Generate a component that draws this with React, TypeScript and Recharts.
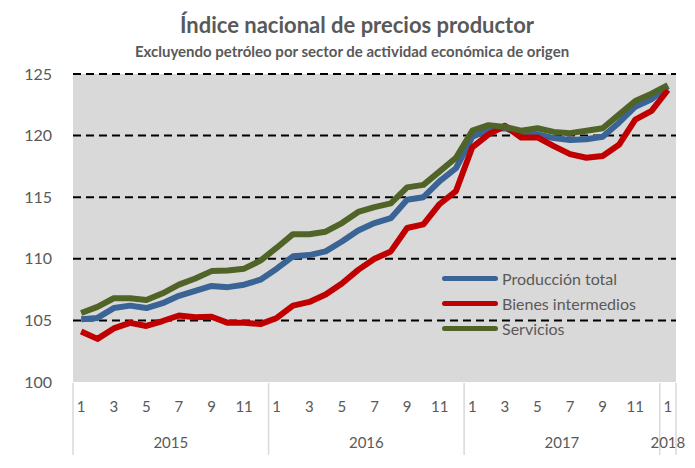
import React from 'react';
import { LineChart, Line, XAxis, YAxis, CartesianGrid, Legend } from 'recharts';

// month number of each observation, Jan 2015 .. Jan 2018
const monthNumbers = [
  1, 2, 3, 4, 5, 6, 7, 8, 9, 10, 11, 12,
  1, 2, 3, 4, 5, 6, 7, 8, 9, 10, 11, 12,
  1, 2, 3, 4, 5, 6, 7, 8, 9, 10, 11, 12,
  1,
];
const years = ['2015', '2016', '2017', '2018'];

const produccionTotal = [
  105.1, 105.2, 106.0, 106.2, 106.0, 106.4, 107.0, 107.4, 107.8, 107.7, 107.9, 108.3,
  109.2, 110.2, 110.3, 110.6, 111.4, 112.3, 112.9, 113.3, 114.8, 115.0, 116.3, 117.35,
  119.9, 120.45, 120.6, 120.1, 120.1, 119.8, 119.65, 119.7, 119.9, 121.05, 122.35, 122.95,
  124.0,
];
const bienesIntermedios = [
  104.1, 103.5, 104.35, 104.8, 104.55, 104.95, 105.4, 105.25, 105.3, 104.8, 104.8, 104.7,
  105.2, 106.2, 106.5, 107.1, 108.0, 109.1, 110.0, 110.6, 112.5, 112.8, 114.45, 115.5,
  119.05, 120.1, 120.8, 119.85, 119.85, 119.15, 118.5, 118.2, 118.35, 119.25, 121.3, 122.0,
  123.7,
];
const servicios = [
  105.6, 106.1, 106.8, 106.8, 106.65, 107.2, 107.9, 108.4, 109.0, 109.05, 109.2, 109.85,
  110.9, 112.0, 112.0, 112.2, 112.9, 113.8, 114.2, 114.5, 115.8, 116.0, 117.1, 118.2,
  120.4, 120.85, 120.7, 120.4, 120.6, 120.3, 120.2, 120.4, 120.6, 121.7, 122.8, 123.4,
  124.1,
];
const seriesNames = ['Producción total', 'Bienes intermedios', 'Servicios'];

const yTicks = [100, 105, 110, 115, 120, 125];
const gridValues = [105, 110, 115, 120, 125];

const data = monthNumbers.map((m, i) => ({
  i,
  total: produccionTotal[i],
  bienes: bienesIntermedios[i],
  servicios: servicios[i],
}));

// year groups: start index of each year, separators between them, centre of each group
const yearStarts = monthNumbers.map((m, i) => (m === 1 ? i : -1)).filter((i) => i >= 0);
const yearEnds = yearStarts.map((s, k) => (k + 1 < yearStarts.length ? yearStarts[k + 1] - 1 : monthNumbers.length - 1));
const yearCenters = yearStarts.map((s, k) => (s + yearEnds[k]) / 2);
const separators = [...yearStarts.map((s) => s - 0.5), monthNumbers.length - 0.5];
const xTicks = Array.from(new Set([...data.map((d) => d.i), ...yearCenters, ...separators])).sort((a, b) => a - b);

const textColor = '#595959';

const XTick = (props: any) => {
  const { x, y, payload } = props;
  const v = payload.value;
  const yearIdx = yearCenters.indexOf(v);
  const showMonth = Number.isInteger(v) && monthNumbers[v] % 2 === 1;
  return (
    <g>
      {separators.includes(v) && (
        <line x1={x} x2={x} y1={y + 1} y2={y + 73} stroke="#d9d9d9" strokeWidth={1.5} />
      )}
      {showMonth && (
        <text x={x} y={y + 30} textAnchor="middle" fontSize={15} fill={textColor}>
          {monthNumbers[v]}
        </text>
      )}
      {yearIdx >= 0 && (
        <text x={x} y={y + 66} textAnchor="middle" fontSize={15} fill={textColor}>
          {years[yearIdx]}
        </text>
      )}
    </g>
  );
};

const renderLegend = (props: any) => {
  const items = [...(props.payload || [])].sort(
    (a: any, b: any) => seriesNames.indexOf(a.value) - seriesNames.indexOf(b.value)
  );
  return (
    <div>
      {items.map((p: any) => (
        <div key={p.value} style={{ display: 'flex', alignItems: 'center', height: 25 }}>
          <span
            style={{
              display: 'inline-block',
              width: 56,
              height: 5,
              borderRadius: 3,
              background: p.color,
              marginRight: 4,
            }}
          />
          <span style={{ fontSize: 16, color: textColor, whiteSpace: 'nowrap' }}>{p.value}</span>
        </div>
      ))}
    </div>
  );
};

export default function App() {
  return (
    <div
      style={{
        position: 'absolute',
        left: 0,
        top: 0,
        width: 695,
        height: 468,
        background: '#fff',
        fontFamily: 'Lato, sans-serif',
      }}
    >
      <LineChart width={695} height={468} data={data} margin={{ top: 74, right: 19, bottom: 0, left: 0 }}>
        <CartesianGrid
          vertical={false}
          horizontalValues={gridValues}
          fill="#d9d9d9"
          fillOpacity={1}
          stroke="#000"
          strokeWidth={2}
          strokeDasharray="8 5"
        />
        <XAxis
          type="number"
          dataKey="i"
          domain={[-0.5, monthNumbers.length - 0.5]}
          ticks={xTicks}
          interval={0}
          axisLine={false}
          tickLine={false}
          tickSize={0}
          tickMargin={0}
          height={86}
          tick={<XTick />}
        />
        <YAxis
          type="number"
          domain={[100, 125]}
          ticks={yTicks}
          interval={0}
          axisLine={false}
          tickLine={false}
          tickSize={0}
          tickMargin={21}
          width={73}
          tick={{ fill: textColor, fontSize: 16 }}
        />
        <Legend
          layout="vertical"
          align="center"
          verticalAlign="middle"
          wrapperStyle={{ left: 442, top: 266, width: 220 }}
          content={renderLegend}
        />
        <Line
          type="linear"
          dataKey="total"
          name={seriesNames[0]}
          stroke="#3a6496"
          strokeWidth={6}
          strokeLinejoin="round"
          dot={false}
          isAnimationActive={false}
        />
        <Line
          type="linear"
          dataKey="bienes"
          name={seriesNames[1]}
          stroke="#c00000"
          strokeWidth={6}
          strokeLinejoin="round"
          dot={false}
          isAnimationActive={false}
        />
        <Line
          type="linear"
          dataKey="servicios"
          name={seriesNames[2]}
          stroke="#506428"
          strokeWidth={6}
          strokeLinejoin="round"
          dot={false}
          isAnimationActive={false}
        />
      </LineChart>
      <svg
        width={695}
        height={70}
        style={{ position: 'absolute', left: 0, top: 0, pointerEvents: 'none' }}
      >
        <text x={357} y={33} textAnchor="middle" fontSize={22} fontWeight="bold" fill={textColor}>
          Índice nacional de precios productor
        </text>
        <text x={352} y={57} textAnchor="middle" fontSize={15} fontWeight="bold" fill={textColor}>
          Excluyendo petróleo por sector de actividad económica de origen
        </text>
      </svg>
    </div>
  );
}
